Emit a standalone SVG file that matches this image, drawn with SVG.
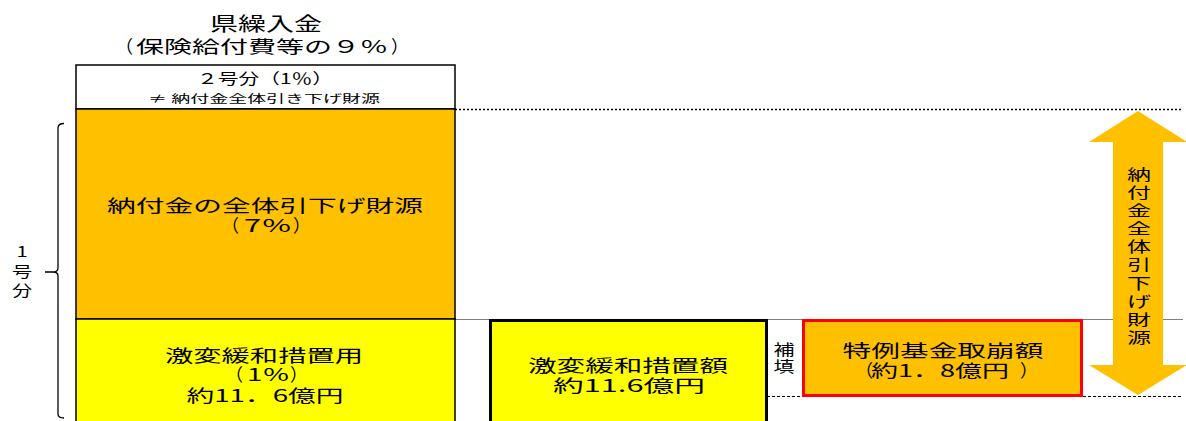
<svg xmlns="http://www.w3.org/2000/svg" width="1186" height="421" viewBox="0 0 1186 421">
<style>
text{font-family:"Noto Sans CJK JP","Noto Sans CJK SC",sans-serif;fill:#000;text-anchor:middle}
text.s{text-anchor:start}
text.e{text-anchor:end}
.t19{font-size:19px}
.t18{font-size:17.5px}
.t15{font-size:15px}
.t11{font-size:11px}
</style>
<rect width="1186" height="421" fill="#fff"/>
<g id="title">
<text class="t19" x="266" y="31" textLength="112" lengthAdjust="spacingAndGlyphs">県繰入金</text>
<text class="t18 e" x="133" y="53">（</text>
<text class="t18 s" x="136" y="53" textLength="252" lengthAdjust="spacingAndGlyphs">保険給付費等の９％</text>
<text class="t18 s" x="391" y="53">）</text>
</g>
<g id="connectors">
<line x1="455" y1="109.5" x2="1183" y2="109.5" stroke="#000" stroke-width="1.3" stroke-dasharray="2,2"/>
<line x1="455" y1="319.5" x2="1183" y2="319.5" stroke="#808080" stroke-width="1.2"/>
<line x1="767" y1="396.5" x2="802" y2="396.5" stroke="#000" stroke-width="1" stroke-dasharray="3,2"/>
<line x1="1083" y1="396.5" x2="1183" y2="396.5" stroke="#000" stroke-width="1" stroke-dasharray="3,2"/>
<path d="M64,123.5 Q58,123.5 58,128 L58,268 Q58,272 53,272 L45,272 M53,272 Q58,272 58,276 L58,414 Q58,418 64,418" fill="none" stroke="#000" stroke-width="1.3"/>
</g>
<g id="node-2gou">
<rect x="76" y="65" width="379" height="44" fill="#fff" stroke="#000" stroke-width="1.5"/>
<text class="t15" x="265" y="84" textLength="136" lengthAdjust="spacingAndGlyphs">２号分（1％）</text>
<text class="t11" x="264" y="103" textLength="232" lengthAdjust="spacingAndGlyphs">≠ 納付金全体引き下げ財源</text>
</g>
<g id="node-7pct">
<rect x="76" y="109" width="379" height="210" fill="#FFC000" stroke="#000" stroke-width="1.5"/>
<text class="t18" x="265" y="212" textLength="316" lengthAdjust="spacingAndGlyphs">納付金の全体引下げ財源</text>
<text class="t18 e" x="239" y="232">（</text>
<text class="t18 s" x="244" y="232" textLength="48" lengthAdjust="spacingAndGlyphs">7％</text>
<text class="t18 s" x="293" y="232">）</text>
</g>
<g id="node-1pct">
<rect x="76" y="319" width="379" height="110" fill="#FFFF00" stroke="#000" stroke-width="1.5"/>
<text class="t18" x="264" y="362" textLength="198" lengthAdjust="spacingAndGlyphs">激変緩和措置用</text>
<text class="t18 e" x="243" y="381">（</text>
<text class="t18 s" x="247" y="381" textLength="43" lengthAdjust="spacingAndGlyphs">1％</text>
<text class="t18 s" x="290" y="381">）</text>
<text class="t18" x="265" y="402" textLength="157" lengthAdjust="spacingAndGlyphs">約11．6億円</text>
</g>
<g id="label-1gou">
<text class="t15" transform="translate(22,0) scale(1.35,1)"><tspan x="0" y="257">1</tspan><tspan x="0" y="277">号</tspan><tspan x="0" y="296">分</tspan></text>
</g>
<g id="node-gekihen">
<rect x="490.5" y="320.5" width="276" height="110" fill="#FFFF00" stroke="#000" stroke-width="3"/>
<text class="t18" x="628" y="372" textLength="200" lengthAdjust="spacingAndGlyphs">激変緩和措置額</text>
<text class="t18" x="629" y="392" textLength="152" lengthAdjust="spacingAndGlyphs">約11.6億円</text>
</g>
<g id="label-hoten">
<text class="t15" transform="translate(784,0) scale(1.4,1)"><tspan x="0" y="355">補</tspan><tspan x="0" y="372">填</tspan></text>
</g>
<g id="node-tokurei">
<rect x="803.5" y="320.5" width="278" height="75" fill="#FFC000" stroke="#FF0000" stroke-width="3"/>
<text class="t18" x="943" y="357" textLength="201" lengthAdjust="spacingAndGlyphs">特例基金取崩額</text>
<text class="t18 e" x="873" y="377">（</text>
<text class="t18 s" x="871" y="377" textLength="138" lengthAdjust="spacingAndGlyphs">約1．8億円</text>
<text class="t18 s" x="1020" y="377">）</text>
</g>
<g id="node-arrow">
<polygon points="1138,111 1187,142 1163,142 1163,365 1187,365 1138,395 1089,365 1113,365 1113,142 1089,142" fill="#FFC000"/>
<text class="t15" transform="translate(1139,0) scale(1.6,1)"><tspan x="0" y="180">納</tspan><tspan x="0" y="198">付</tspan><tspan x="0" y="216">金</tspan><tspan x="0" y="234">全</tspan><tspan x="0" y="252">体</tspan><tspan x="0" y="270">引</tspan><tspan x="0" y="289">下</tspan><tspan x="0" y="307">げ</tspan><tspan x="0" y="325">財</tspan><tspan x="0" y="343">源</tspan></text>
</g>
</svg>
